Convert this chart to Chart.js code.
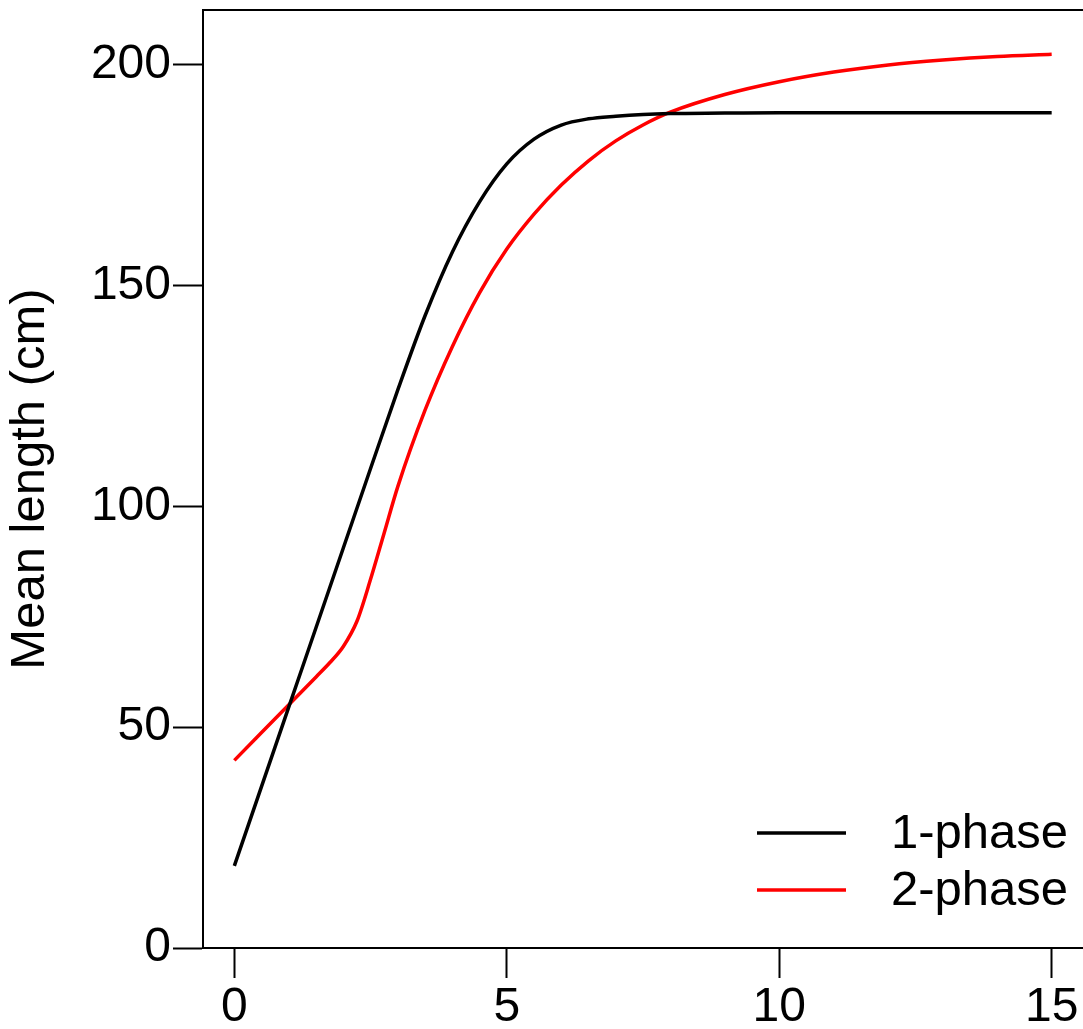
<!DOCTYPE html>
<html lang="en">
<head>
<meta charset="UTF-8">
<title>Mean length</title>
<script src="https://cdn.jsdelivr.net/npm/chart.js"></script>
<style>
    html, body { margin: 0; padding: 0; background: #fff; }
    #wrap { width: 1083px; height: 1029px; }
</style>
</head>
<body>
<div id="wrap"><canvas id="chart"></canvas></div>
<script>
// values
const ages1 = [0, 0.5, 1, 1.5, 2, 2.5, 3, 3.5, 4, 4.5, 5, 5.5, 6, 6.5, 7, 7.5, 8, 9, 10, 12, 15];
const onePhase = [18.6, 36.6, 54.6, 72.6, 90.6, 108.6, 126.4, 143.2, 157.6, 169, 177.6, 183.2, 186.4, 187.8, 188.4, 188.8, 189, 189.1, 189.2, 189.2, 189.2];

const ages2 = [0, 0.5, 1, 1.5, 1.75, 2, 2.25, 2.5, 2.75, 3, 3.5, 4, 4.5, 5, 5.5, 6, 6.5, 7, 7.5, 8, 9, 10, 11, 12, 13, 14, 15];
const twoPhase = [42.5, 48.8, 55.1, 61.4, 64.6, 68.3, 74, 83.5, 94, 104.5, 121.8, 136.2, 148.4, 158.3, 166.2, 172.8, 178.3, 182.8, 186.4, 189.3, 193.3, 196.2, 198.4, 200, 201.1, 201.9, 202.4];

const xTicks = [0, 5, 10, 15];
const yTicks = [0, 50, 100, 150, 200];
const seriesNames = ['1-phase', '2-phase'];
const seriesColors = ['#000000', '#ff0000'];

const FONT = '"Liberation Sans", Arial, sans-serif';

function toPoints(xs, ys) {
    return xs.map((x, i) => ({ x: x, y: ys[i] }));
}

// top frame line + legend inside the plot
const framePlugin = {
    id: 'frameAndLegend',
    afterDraw(chart) {
        const ctx = chart.ctx;
        const area = chart.chartArea;
        ctx.save();
        ctx.strokeStyle = '#000';
        ctx.lineWidth = 2;
        ctx.beginPath();
        ctx.moveTo(area.left - 1, area.top);
        ctx.lineTo(area.right, area.top);
        ctx.stroke();

        ctx.font = '49px ' + FONT;
        ctx.textBaseline = 'middle';
        ctx.textAlign = 'left';
        chart.data.datasets.forEach((ds, i) => {
            const y = area.bottom - 115 + i * 57;
            ctx.strokeStyle = ds.borderColor;
            ctx.lineWidth = 3.5;
            ctx.beginPath();
            ctx.moveTo(area.right - 326, y);
            ctx.lineTo(area.right - 237, y);
            ctx.stroke();
            ctx.fillStyle = '#000';
            ctx.fillText(ds.label, area.right - 192, y + 1);
        });
        ctx.restore();
    }
};

new Chart(document.getElementById('chart'), {
    type: 'line',
    data: {
        datasets: [
            {
                label: seriesNames[0],
                data: toPoints(ages1, onePhase),
                borderColor: seriesColors[0],
                borderWidth: 3.5,
                pointRadius: 0,
                cubicInterpolationMode: 'monotone',
                fill: false
            },
            {
                label: seriesNames[1],
                data: toPoints(ages2, twoPhase),
                borderColor: seriesColors[1],
                borderWidth: 3.5,
                pointRadius: 0,
                cubicInterpolationMode: 'monotone',
                fill: false
            }
        ]
    },
    options: {
        responsive: true,
        maintainAspectRatio: false,
        animation: false,
        layout: { padding: { top: 10, right: 0, left: 0, bottom: 0 } },
        plugins: {
            legend: { display: false },
            tooltip: { enabled: false }
        },
        scales: {
            x: {
                type: 'linear',
                min: -0.575,
                max: 15.575,
                afterBuildTicks: (scale) => { scale.ticks = xTicks.map(v => ({ value: v })); },
                afterFit: (scale) => {
                    scale.height = 81;
                    scale.paddingLeft = 0;
                    scale.paddingRight = 0;
                },
                grid: {
                    drawOnChartArea: false,
                    drawTicks: true,
                    tickLength: 30,
                    tickColor: '#000',
                    tickWidth: 2
                },
                border: { display: true, color: '#000', width: 2 },
                ticks: {
                    color: '#000',
                    padding: 1,
                    maxRotation: 0,
                    font: { family: FONT, size: 48 }
                }
            },
            y: {
                type: 'linear',
                min: 0,
                max: 212.45,
                afterBuildTicks: (scale) => { scale.ticks = yTicks.map(v => ({ value: v })); },
                afterFit: (scale) => {
                    scale.width = 203;
                    scale.paddingTop = 0;
                    scale.paddingBottom = 0;
                },
                grid: {
                    drawOnChartArea: false,
                    drawTicks: true,
                    tickLength: 30,
                    tickColor: '#000',
                    tickWidth: 2
                },
                border: { display: true, color: '#000', width: 2 },
                ticks: {
                    color: '#000',
                    padding: 2,
                    font: { family: FONT, size: 48 }
                },
                title: {
                    display: true,
                    text: 'Mean length (cm)',
                    color: '#000',
                    padding: { top: 1, bottom: 0 },
                    font: { family: FONT, size: 49, lineHeight: 1.2 }
                }
            }
        }
    },
    plugins: [framePlugin]
});
</script>
</body>
</html>
